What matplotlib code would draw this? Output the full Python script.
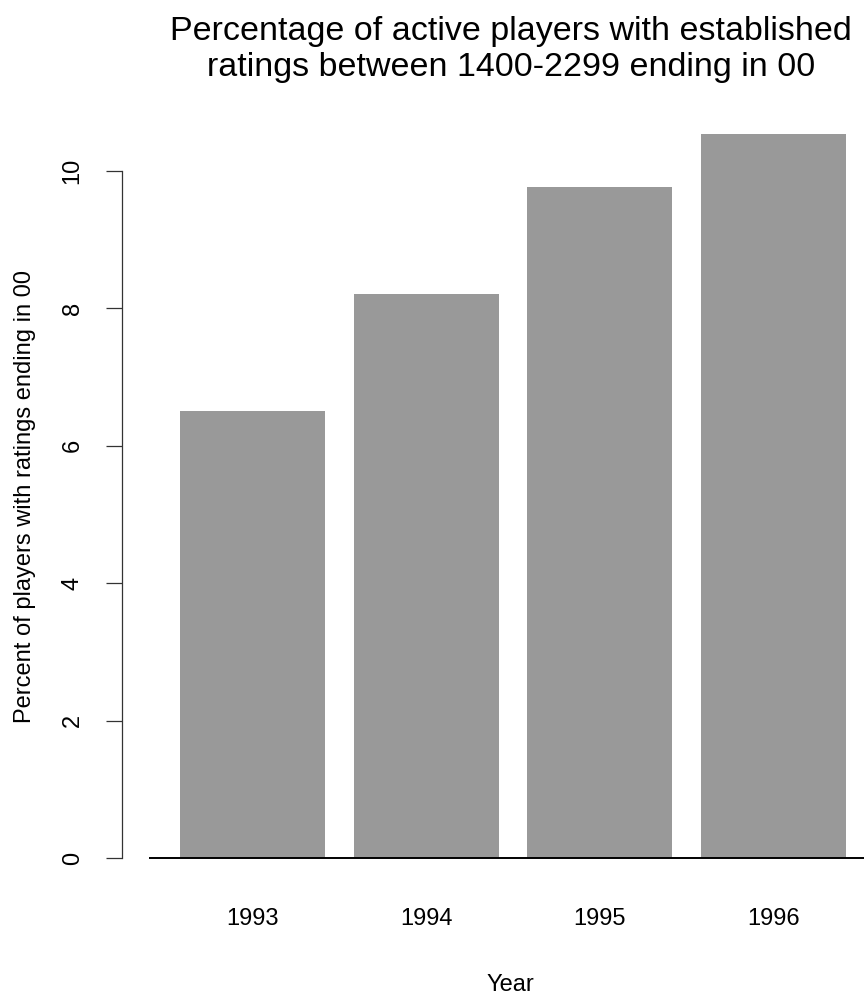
import matplotlib
matplotlib.use("Agg")
import matplotlib.pyplot as plt
import numpy as np

plt.rcParams['font.family'] = ['Liberation Sans', 'DejaVu Sans']

years = ['1993', '1994', '1995', '1996']
percent_00 = [6.51, 8.21, 9.76, 10.53]
y_ticks = [0, 2, 4, 6, 8, 10]

title_lines = ["Percentage of active players with established",
               "ratings between 1400-2299 ending in 00"]
x_label = "Year"
y_label = "Percent of players with ratings ending in 00"

W, H = 864, 999
DPI = 100
fig = plt.figure(figsize=(W / DPI, H / DPI), dpi=DPI)

# R-like barplot geometry (width 1, space 0.2)
centers = 0.7 + 1.2 * np.arange(len(years))
xlim = (-0.016, 4.984)
ymax = max(percent_00)
ylim = (-0.04 * ymax, 1.04 * ymax)

left_px, right_px = 148.7, 872.7
top_px, bot_px = 105.3, 887.2
ax = fig.add_axes([left_px / W, 1 - bot_px / H,
                   (right_px - left_px) / W, (bot_px - top_px) / H])
ax.set_xlim(*xlim)
ax.set_ylim(*ylim)

ax.bar(centers, percent_00, width=1.0, color='#999999', edgecolor='none', zorder=2)
ax.axhline(0, color='black', lw=1.4, zorder=3)

for s in ['top', 'right', 'bottom']:
    ax.spines[s].set_visible(False)
ax.spines['left'].set_position(('outward', 27 * 72 / DPI))
ax.spines['left'].set_bounds(y_ticks[0], y_ticks[-1])
ax.spines['left'].set_color('#333333')
ax.spines['left'].set_linewidth(0.9)

FS = 17
ax.set_yticks(y_ticks)
ax.set_yticklabels([str(t) for t in y_ticks], rotation=90, va='center')
ax.tick_params(axis='y', direction='out', length=16 * 72 / DPI, width=0.9,
               color='#333333', labelsize=FS, pad=22 * 72 / DPI)

ax.set_xticks(centers)
ax.set_xticklabels(years)
ax.tick_params(axis='x', length=0, labelsize=FS, pad=21 * 72 / DPI)

cx = (left_px + right_px) / 2
fig.text(cx / W, 1 - 40 / H, title_lines[0], ha='center', va='baseline', fontsize=24.5)
fig.text(cx / W, 1 - 76 / H, title_lines[1], ha='center', va='baseline', fontsize=24.5)

fig.text(cx / W, 1 - 985 / H, x_label, ha='center', va='center', fontsize=FS)
fig.text(25 / W, 1 - ((top_px + bot_px) / 2) / H, y_label, ha='center', va='center',
         rotation=90, fontsize=FS)

fig.savefig('out.png', dpi=DPI)
